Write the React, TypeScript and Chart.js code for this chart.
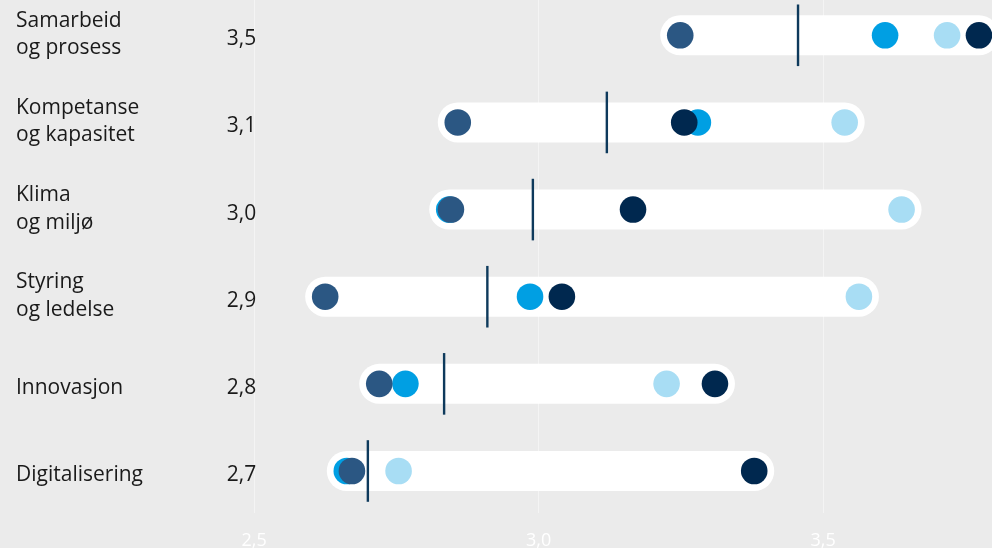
import React, { useEffect, useRef } from 'react';
import { Chart, registerables } from 'chart.js';

Chart.register(...registerables);

// ---- data ----
const CATEGORIES: string[][] = [
  ['Samarbeid', 'og prosess'],
  ['Kompetanse', 'og kapasitet'],
  ['Klima', 'og miljø'],
  ['Styring', 'og ledelse'],
  ['Innovasjon'],
  ['Digitalisering'],
];
const AVERAGE = [3.456, 3.12, 2.99, 2.91, 2.834, 2.7];
const AVERAGE_LABELS = ['3,5', '3,1', '3,0', '2,9', '2,8', '2,7'];
const SERIES_DARK_BLUE = [3.249, 2.858, 2.846, 2.625, 2.72, 2.672];
const SERIES_BLUE = [3.609, 3.28, 2.843, 2.985, 2.766, 2.663];
const SERIES_LIGHT_BLUE = [3.718, 3.538, 3.638, 3.563, 3.225, 2.754];
const SERIES_NAVY = [3.774, 3.256, 3.166, 3.041, 3.31, 3.379];
const X_TICKS = [2.5, 3.0, 3.5];
const X_TICK_LABELS = ['2,5', '3,0', '3,5'];

const FONT = '"Open Sans", "Noto Sans", sans-serif';

const toPoints = (arr: number[]) => arr.map((v, i) => ({ x: v, y: i }));

export default function App() {
  const ref = useRef<HTMLCanvasElement | null>(null);

  useEffect(() => {
    document.body.style.margin = '0';
    const canvas = ref.current;
    if (!canvas) return;

    const all = [SERIES_DARK_BLUE, SERIES_BLUE, SERIES_LIGHT_BLUE, SERIES_NAVY];
    const rangeSets = CATEGORIES.map((_, i) => {
      const vals = all.map((s) => s[i]);
      return {
        data: [
          { x: Math.min(...vals), y: i },
          { x: Math.max(...vals), y: i },
        ],
        showLine: true,
        borderColor: '#ffffff',
        borderWidth: 40,
        borderCapStyle: 'round' as const,
        pointRadius: 0,
        order: 10,
      };
    });

    const dot = (arr: number[], color: string, order: number) => ({
      data: toPoints(arr),
      backgroundColor: color,
      borderColor: color,
      borderWidth: 0,
      pointRadius: 13.3,
      order,
    });

    const sidePlugin = {
      id: 'sideLabels',
      afterDraw(chart: any) {
        const ctx = chart.ctx as CanvasRenderingContext2D;
        const ys = chart.scales.y;
        const xs = chart.scales.x;
        ctx.save();
        ctx.fillStyle = '#1a1a1a';
        ctx.font = `21px ${FONT}`;
        ctx.textBaseline = 'alphabetic';
        CATEGORIES.forEach((lines, i) => {
          const cy = ys.getPixelForValue(i);
          ctx.textAlign = 'left';
          if (lines.length === 2) {
            ctx.fillText(lines[0], 16, cy - 8.5);
            ctx.fillText(lines[1], 16, cy + 19);
          } else {
            ctx.fillText(lines[0], 16, cy + 10);
          }
          ctx.textAlign = 'center';
          ctx.fillText(AVERAGE_LABELS[i], 241.5, cy + 10);
        });
        ctx.fillStyle = '#ffffff';
        ctx.font = `18px ${FONT}`;
        ctx.textAlign = 'center';
        xs.ticks.forEach((t: any, k: number) => {
          ctx.fillText(X_TICK_LABELS[k] ?? String(t.value), xs.getPixelForValue(t.value), 546);
        });
        ctx.restore();
      },
    };

    const chart = new Chart(canvas, {
      type: 'scatter',
      data: {
        datasets: [
          ...rangeSets,
          dot(SERIES_BLUE, '#009fe3', 5),
          dot(SERIES_LIGHT_BLUE, '#a8ddf4', 4),
          dot(SERIES_DARK_BLUE, '#2b5783', 3),
          dot(SERIES_NAVY, '#00284f', 2),
          {
            data: toPoints(AVERAGE),
            pointStyle: 'line',
            rotation: 90,
            pointRadius: 30.8,
            borderColor: '#0e3a5c',
            backgroundColor: '#0e3a5c',
            borderWidth: 2.4,
            order: 1,
          },
        ] as any,
      },
      options: {
        responsive: false,
        animation: false,
        events: [],
        clip: false as any,
        layout: { autoPadding: false, padding: { left: 0, right: 0, top: 0, bottom: 35 } },
        plugins: { legend: { display: false }, tooltip: { enabled: false } },
        scales: {
          x: {
            type: 'linear',
            min: 2.0535,
            max: 3.7969,
            afterBuildTicks: (scale: any) => {
              scale.ticks = X_TICKS.map((v) => ({ value: v }));
            },
            ticks: { display: false },
            border: { display: false },
            grid: { color: '#f4f4f4', lineWidth: 1, drawTicks: false },
          },
          y: {
            type: 'linear',
            display: false,
            reverse: true,
            min: -0.405,
            max: 5.482,
          },
        },
      },
      plugins: [sidePlugin],
    });

    return () => chart.destroy();
  }, []);

  return (
    <div style={{ width: 992, height: 548, background: '#ebebeb' }}>
      <canvas ref={ref} width={992} height={548} style={{ display: 'block' }} />
    </div>
  );
}
